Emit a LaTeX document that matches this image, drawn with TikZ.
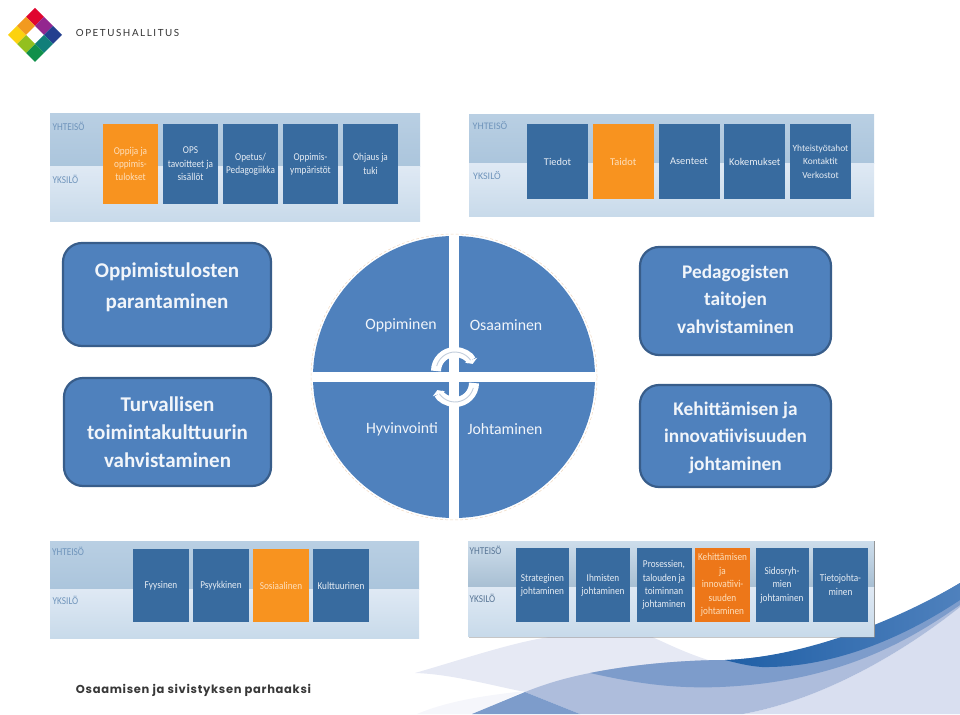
\documentclass[tikz,border=0pt]{standalone}
\usepackage{fontspec}
\setmainfont{Carlito}
\newfontfamily\dimfont[FakeStretch=0.88]{Carlito}
\newfontfamily\logofont[LetterSpace=16]{Lato}
\newfontfamily\sloganfont[LetterSpace=6]{Poppins}
\usetikzlibrary{arrows.meta,shadows}
\definecolor{quadblue}{HTML}{4F81BD}
\definecolor{quadedge}{HTML}{385D8A}
\definecolor{boxblue}{HTML}{386B9F}
\definecolor{boxorange}{HTML}{F8931F}
\definecolor{bandlabel}{HTML}{6F94BB}
\definecolor{bandtopA}{HTML}{B9CFE3}
\definecolor{bandtopB}{HTML}{ABC5DC}
\definecolor{bandtopC}{HTML}{CDDDEB}
\definecolor{bandtopD}{HTML}{A8BFD3}
\definecolor{bandlowA}{HTML}{DFE9F4}
\definecolor{bandlowB}{HTML}{C8DAEA}
\definecolor{wavepale}{HTML}{E6E9F4}
\definecolor{wavefaint}{HTML}{F5F6FB}
\definecolor{wavelav}{HTML}{D9DFF0}
\definecolor{waveperi}{HTML}{AEBDDC}
\definecolor{wavemid}{HTML}{7D9CCB}
\definecolor{wavedark}{HTML}{1F5FA6}
\definecolor{logoA}{HTML}{E0052F}
\definecolor{logoB}{HTML}{93278F}
\definecolor{logoC}{HTML}{24408F}
\definecolor{logoD}{HTML}{117F7A}
\definecolor{logoE}{HTML}{10904A}
\definecolor{logoF}{HTML}{93C01F}
\definecolor{logoG}{HTML}{FCD20F}
\definecolor{logoH}{HTML}{F29A1F}
\tikzstyle{bandtop} = [rectangle, inner sep=0pt, top color=bandtopA, bottom color=bandtopB]
\tikzstyle{bandlow} = [rectangle, inner sep=0pt, top color=bandlowA, bottom color=bandlowB]
\tikzstyle{bandlabel} = [text=bandlabel, font=\dimfont\fontsize{10.5}{11}\selectfont, inner sep=0pt]
\tikzstyle{dim} = [rectangle, inner sep=0pt, fill=boxblue, text=white!88!boxblue,
    align=center, font=\dimfont\fontsize{10.5}{13.4}\selectfont]
\tikzstyle{dimhot} = [dim, fill=boxorange, text=white!70!boxorange]
\tikzstyle{goal} = [rectangle, draw=quadedge, line width=2.2pt, fill=quadblue, rounded corners=19pt,
    inner sep=0pt, text=white!92!quadblue, align=center, font=\bfseries\fontsize{21}{28}\selectfont]
\tikzstyle{goalright} = [goal, font=\bfseries\fontsize{19.3}{27.5}\selectfont]
\tikzstyle{quadtext} = [text=white!92!quadblue, inner sep=0pt, font=\fontsize{15.8}{17}\selectfont]
\tikzstyle{ring} = [white, line width=10pt, -{Triangle[width=13pt,length=4pt]}]
\tikzstyle{ringcore} = [draw=quadedge!30!white, line width=.9pt]

\begin{document}
\begin{tikzpicture}[x=1pt, y=-1pt, node distance=60pt]
 \useasboundingbox (0,0) rectangle (960,714);
 % wave at the foot of the slide
 \fill[wavepale] (415,673) .. controls (470,657) and (520,640) .. (557,636) -- (650,636)
    .. controls (670,645) and (690,655) .. (715,662) -- (590,674) -- (525,692) .. controls (490,685) and (450,674) .. (415,673);
 \fill[wavefaint] (417,714) .. controls (450,700) and (490,695) .. (525,691) -- (472,714) -- cycle;
 \fill[wavelav] (743,714) .. controls (820,700) and (900,655) .. (960,607) -- (960,714) -- cycle;
 \fill[waveperi] (525,692) .. controls (550,682) and (570,677) .. (590,673) .. controls (630,665) and (680,660) .. (727,660)
    .. controls (820,655) and (900,620) .. (960,583) -- (960,607)
    .. controls (900,655) and (820,700) .. (743,714) -- (580,714) -- cycle;
 \fill[wavemid] (472,714) -- (525,692) -- (580,714) -- cycle;
 \fill[wavemid] (590,673) .. controls (630,665) and (680,660) .. (727,660)
    .. controls (820,655) and (900,620) .. (960,583) -- (960,605)
    .. controls (910,640) and (840,682) .. (720,687) .. controls (670,689) and (630,682) .. (590,673);
 \shade[left color=wavedark, right color=quadblue] (725,660) .. controls (790,658) and (880,630) .. (960,583)
    -- (960,600) .. controls (900,640) and (830,668) .. (762,667) .. controls (748,666) and (737,663) .. (725,660);

 % the logo
 \foreach \dx/\dy/\logocol in {0/-18/logoA, 9/-9/logoB, 18/0/logoC, 9/9/logoD, 0/18/logoE,
    -9/9/logoF, -18/0/logoG, -9/-9/logoH}
   \fill[\logocol] (35+\dx,35+\dy-9) -- ++(9,9) -- ++(-9,9) -- ++(-9,-9) -- cycle;
 \node at (127.5,33) [inner sep=0pt, text=black!80, font=\logofont\fontsize{9.8}{10}\selectfont] (logotext) {OPETUSHALLITUS};
 \node at (193.5,690) [inner sep=0pt, text=black!78, font=\sloganfont\bfseries\fontsize{11.5}{13}\selectfont] (slogan) {Osaamisen ja sivistyksen parhaaksi};

 % Oppiminen panel
 \node at (235,140.5) [bandtop, minimum width=370pt, minimum height=53pt] (oppTop) {};
 \node at (235,194) [bandlow, minimum width=370pt, minimum height=54pt] (oppLow) {};
 \node at (68.5,126) [bandlabel] (oppYht) {YHTEISÖ};
 \node at (65.5,179) [bandlabel] (oppYks) {YKSILÖ};
 \node at (130.5,164) [dimhot, minimum width=55pt, minimum height=80pt] (oppija) {Oppija ja\\oppimis-\\tulokset};
 \node [dim, right of=oppija, minimum width=55pt, minimum height=80pt] (ops) {OPS\\tavoitteet ja\\sisällöt};
 \node [dim, right of=ops, minimum width=55pt, minimum height=80pt] (opetus) {Opetus/\\Pedagogiikka};
 \node [dim, right of=opetus, minimum width=55pt, minimum height=80pt] (ympar) {Oppimis-\\ympäristöt};
 \node [dim, right of=ympar, minimum width=55pt, minimum height=80pt] (ohjaus) {Ohjaus ja\\tuki};

 % Osaaminen panel
 \node at (671.5,139.5) [bandtop, minimum width=405pt, minimum height=49pt] (osaTop) {};
 \node at (671.5,190) [bandlow, minimum width=405pt, minimum height=52pt] (osaLow) {};
 \node at (490,126) [bandlabel, font=\fontsize{10}{11}\selectfont] (osaYht) {YHTEISÖ};
 \node at (487,176) [bandlabel, font=\fontsize{10}{11}\selectfont] (osaYks) {YKSILÖ};
 \node at (557.5,161.5) [dim, minimum width=61pt, minimum height=75pt, font=\fontsize{10.4}{13.4}\selectfont] (tiedot) {Tiedot};
 \node [dimhot, right of=tiedot, node distance=65.75pt, minimum width=61pt, minimum height=75pt, font=\fontsize{10.4}{13.4}\selectfont] (taidot) {Taidot};
 \node [dim, right of=taidot, node distance=65.75pt, minimum width=61pt, minimum height=75pt, font=\fontsize{10.4}{13.4}\selectfont] (asenteet) {Asenteet};
 \node [dim, right of=asenteet, node distance=65.75pt, minimum width=61pt, minimum height=75pt, font=\fontsize{10.4}{13.4}\selectfont] (kokemukset) {Kokemukset};
 \node [dim, right of=kokemukset, node distance=65.75pt, minimum width=61pt, minimum height=75pt, font=\fontsize{9.4}{13.4}\selectfont] (yhteistyo) {Yhteistyötahot\\Kontaktit\\Verkostot};

 % Hyvinvointi panel
 \node at (234.5,565) [bandtop, minimum width=369pt, minimum height=48pt] (hyvTop) {};
 \node at (234.5,613.5) [bandlow, minimum width=369pt, minimum height=49pt] (hyvLow) {};
 \node at (68,551) [bandlabel] (hyvYht) {YHTEISÖ};
 \node at (65.5,600) [bandlabel] (hyvYks) {YKSILÖ};
 \node at (161,585.5) [dim, minimum width=55.5pt, minimum height=73pt] (fyysinen) {Fyysinen};
 \node [dim, right of=fyysinen, minimum width=55.5pt, minimum height=73pt] (psyykkinen) {Psyykkinen};
 \node [dimhot, right of=psyykkinen, minimum width=55.5pt, minimum height=73pt] (sosiaalinen) {Sosiaalinen};
 \node [dim, right of=sosiaalinen, minimum width=55.5pt, minimum height=73pt] (kulttuurinen) {Kulttuurinen};

 % Johtaminen panel
 \node at (671,588.5) [rectangle, inner sep=0pt, fill=white, draw=black!45, line width=.6pt, drop shadow={opacity=.45, shadow xshift=1pt, shadow yshift=-1.5pt},
    minimum width=406pt, minimum height=95pt] (johFrame) {};
 \node at (671,564) [bandtop, top color=bandtopC, bottom color=bandtopD, minimum width=406pt, minimum height=46pt] (johTop) {};
 \node at (671,611.5) [bandlow, minimum width=406pt, minimum height=49pt] (johLow) {};
 \node at (485.5,550) [bandlabel, text=bandlabel!80!black] (johYht) {YHTEISÖ};
 \node at (482.5,598) [bandlabel, text=bandlabel!80!black] (johYks) {YKSILÖ};
 \node at (542.5,585) [dim, minimum width=53pt, minimum height=74pt] (strateginen) {Strateginen\\johtaminen};
 \node [dim, right of=strateginen, node distance=60.5pt, minimum width=54pt, minimum height=74pt] (ihmisten) {Ihmisten\\johtaminen};
 \node [dim, right of=ihmisten, node distance=61pt, minimum width=55pt, minimum height=74pt] (prosessien) {Prosessien,\\talouden ja\\toiminnan\\johtaminen};
 \node [dimhot, fill=boxorange!85!red!95!black, right of=prosessien, node distance=58.5pt, minimum width=55pt, minimum height=74pt] (kehittaminen) {Kehittämisen\\ja\\innovatiivi-\\suuden\\johtaminen};
 \node [dim, right of=kehittaminen, node distance=59.5pt, minimum width=53pt, minimum height=74pt] (sidosryhma) {Sidosryh-\\mien\\johtaminen};
 \node [dim, right of=sidosryhma, node distance=58.5pt, minimum width=55pt, minimum height=74pt] (tietojohto) {Tietojohta-\\minen};

 % side boxes
 \node at (167,294.5) [goal, minimum width=208pt, minimum height=103pt, font=\bfseries\fontsize{21}{31}\selectfont] (parantaminen) {Oppimistulosten\\parantaminen\rule[-17pt]{0pt}{0pt}};
 \node at (167.5,432) [goal, minimum width=207pt, minimum height=108pt] (turvallisen) {Turvallisen\\toimintakulttuurin\\vahvistaminen};
 \node at (735.5,301) [goalright, minimum width=191pt, minimum height=108pt] (pedagogisten) {Pedagogisten\\taitojen\\vahvistaminen\rule[-4pt]{0pt}{0pt}};
 \node at (735.5,436) [goalright, minimum width=191pt, minimum height=102pt] (kehittamisen) {\rule{0pt}{17pt}Kehittämisen ja\\innovatiivisuuden\\johtaminen};

 % the disc
 \coordinate (hub) at (454,377);
 \draw[black!25!orange!25!white, line width=.5pt, densely dashed] (hub) circle [radius=143pt];
 \begin{scope}
  \clip (hub) circle [radius=141pt];
  \fill[quadblue] (300,230) rectangle (449,372);
  \fill[quadblue] (459,230) rectangle (610,372);
  \fill[quadblue] (300,382) rectangle (449,525);
  \fill[quadblue] (459,382) rectangle (610,525);
 \end{scope}
 \node at (401,325) [quadtext] (oppiminen) {Oppiminen};
 \node at (506,325) [quadtext] (osaaminen) {Osaaminen};
 \node at (402,429) [quadtext] (hyvinvointi) {Hyvinvointi};
 \node at (505,429) [quadtext] (johtaminen) {Johtaminen};

 % arrows round the hub
 \draw[ring] ([shift={(180:19pt)}]455,371) arc [start angle=180, end angle=22, radius=19pt];
 \draw[ring] ([shift={(0:19pt)}]455,383) arc [start angle=0, end angle=-158, radius=19pt];
 \draw[ringcore] ([shift={(165:19pt)}]455,371) arc [start angle=165, end angle=35, radius=19pt];
 \draw[ringcore] ([shift={(-15:19pt)}]455,383) arc [start angle=-15, end angle=-145, radius=19pt];
\end{tikzpicture}
\end{document}
